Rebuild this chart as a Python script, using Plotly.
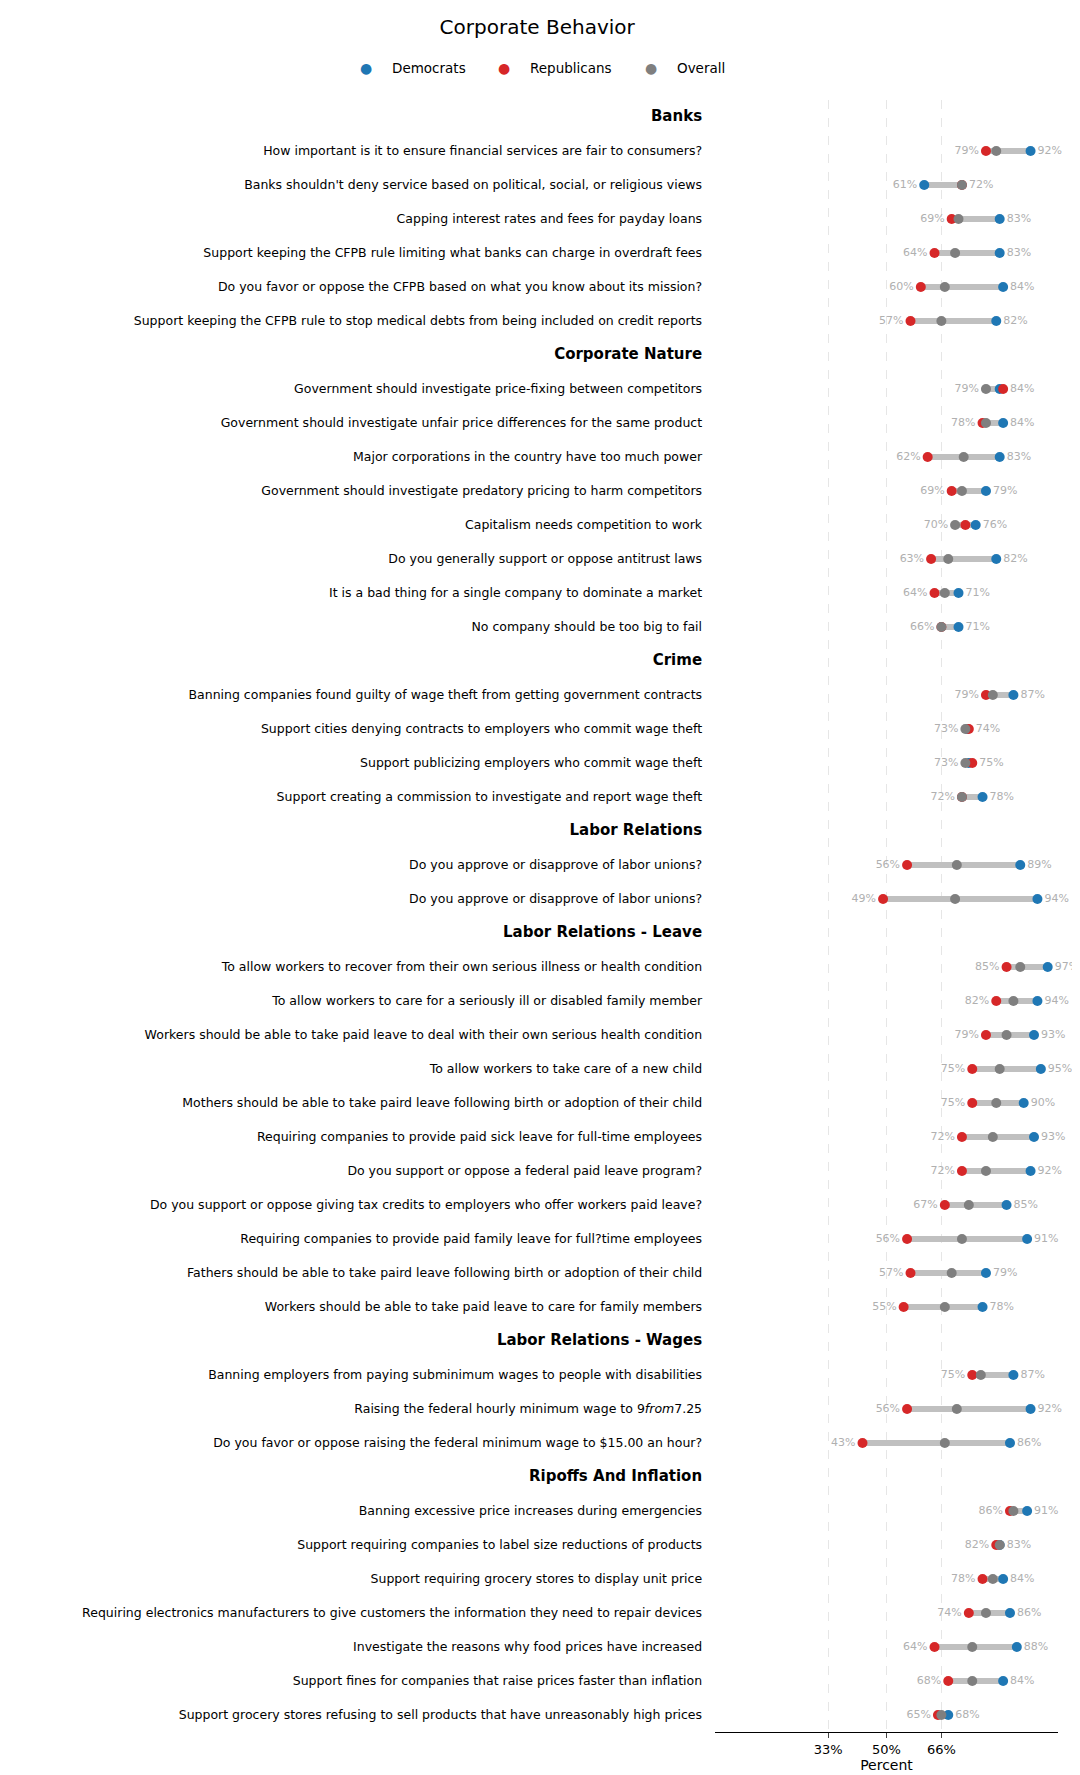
import plotly.graph_objects as go

sections = ["Banks", "Corporate Nature", "Crime", "Labor Relations", "Labor Relations - Leave",
            "Labor Relations - Wages", "Ripoffs And Inflation"]
questions = [
    ["How important is it to ensure financial services are fair to consumers?",
     "Banks shouldn't deny service based on political, social, or religious views",
     "Capping interest rates and fees for payday loans",
     "Support keeping the CFPB rule limiting what banks can charge in overdraft fees",
     "Do you favor or oppose the CFPB based on what you know about its mission?",
     "Support keeping the CFPB rule to stop medical debts from being included on credit reports"],
    ["Government should investigate price-fixing between competitors",
     "Government should investigate unfair price differences for the same product",
     "Major corporations in the country have too much power",
     "Government should investigate predatory pricing to harm competitors",
     "Capitalism needs competition to work",
     "Do you generally support or oppose antitrust laws",
     "It is a bad thing for a single company to dominate a market",
     "No company should be too big to fail"],
    ["Banning companies found guilty of wage theft from getting government contracts",
     "Support cities denying contracts to employers who commit wage theft",
     "Support publicizing employers who commit wage theft",
     "Support creating a commission to investigate and report wage theft"],
    ["Do you approve or disapprove of labor unions?",
     "Do you approve or disapprove of labor unions?"],
    ["To allow workers to recover from their own serious illness or health condition",
     "To allow workers to care for a seriously ill or disabled family member",
     "Workers should be able to take paid leave to deal with their own serious health condition",
     "To allow workers to take care of a new child",
     "Mothers should be able to take paird leave following birth or adoption of their child",
     "Requiring companies to provide paid sick leave for full-time employees",
     "Do you support or oppose a federal paid leave program?",
     "Do you support or oppose giving tax credits to employers who offer workers paid leave?",
     "Requiring companies to provide paid family leave for full?time employees",
     "Fathers should be able to take paird leave following birth or adoption of their child",
     "Workers should be able to take paid leave to care for family members"],
    ["Banning employers from paying subminimum wages to people with disabilities",
     "Raising the federal hourly minimum wage to 9<i>from</i>7.25",
     "Do you favor or oppose raising the federal minimum wage to $15.00 an hour?"],
    ["Banning excessive price increases during emergencies",
     "Support requiring companies to label size reductions of products",
     "Support requiring grocery stores to display unit price",
     "Requiring electronics manufacturers to give customers the information they need to repair devices",
     "Investigate the reasons why food prices have increased",
     "Support fines for companies that raise prices faster than inflation",
     "Support grocery stores refusing to sell products that have unreasonably high prices"],
]
dem = [[92, 61, 83, 83, 84, 82],
       [83, 84, 83, 79, 76, 82, 71, 71],
       [87, 73.5, 74, 78],
       [89, 94],
       [97, 94, 93, 95, 90, 93, 92, 85, 91, 79, 78],
       [87, 92, 86],
       [91, 83, 84, 86, 88, 84, 68]]
rep = [[79, 72, 69, 64, 60, 57],
       [84, 78, 62, 69, 73, 63, 64, 66],
       [79, 74, 75, 72],
       [56, 49],
       [85, 82, 79, 75, 75, 72, 72, 67, 56, 57, 55],
       [75, 56, 43],
       [86, 82, 78, 74, 64, 68, 65]]
ovr = [[82, 72, 71, 70, 67, 66],
       [79, 79, 72.5, 72, 70, 68, 67, 66],
       [81, 73, 73, 72],
       [70.5, 70],
       [89, 87, 85, 83, 82, 81, 79, 74, 72, 69, 67],
       [77.5, 70.5, 67],
       [87, 83, 81, 79, 75, 75, 66]]
x_ticks = [33, 50, 66]
series_names = ["Democrats", "Republicans", "Overall"]
series_colors = ["#1f77b4", "#d62728", "#7f7f7f"]

ticktext, rows = [], []
for s, qs, d, r, o in zip(sections, questions, dem, rep, ovr):
    ticktext.append(f"<span style='font-size:15px'><b>{s}</b></span>   ")
    rows.append(None)
    for q, dv, rv, ov in zip(qs, d, r, o):
        ticktext.append(q + "   ")
        rows.append((dv, rv, ov))
ys = list(range(len(ticktext)))

fig = go.Figure()
lx, ly = [], []
lo_x, lo_y, lo_t, hi_x, hi_y, hi_t = [], [], [], [], [], []
pts = [([], []), ([], []), ([], [])]
for y, row in zip(ys, rows):
    if row is None:
        continue
    mn, mx = min(row), max(row)
    lx += [mn, mx, None]; ly += [y, y, None]
    lo_x.append(mn); lo_y.append(y); lo_t.append(f"{round(mn)}%  ")
    hi_x.append(mx); hi_y.append(y); hi_t.append(f"  {round(mx)}%")
    for k in range(3):
        pts[k][0].append(row[k]); pts[k][1].append(y)

fig.add_trace(go.Scatter(x=lx, y=ly, mode="lines", line=dict(color="#c0c0c0", width=6),
                         showlegend=False, hoverinfo="skip"))
for k in range(3):
    fig.add_trace(go.Scatter(x=pts[k][0], y=pts[k][1], mode="markers", name=series_names[k],
                             marker=dict(color=series_colors[k], size=10), showlegend=False))
fig.add_trace(go.Scatter(x=lo_x, y=lo_y, mode="text", text=lo_t, textposition="middle left",
                         cliponaxis=False,
                         textfont=dict(color="#b0b0b0", size=11), showlegend=False, hoverinfo="skip"))
fig.add_trace(go.Scatter(x=hi_x, y=hi_y, mode="text", text=hi_t, textposition="middle right",
                         cliponaxis=False,
                         textfont=dict(color="#b0b0b0", size=11), showlegend=False, hoverinfo="skip"))

# manual horizontal legend above the chart (paper coords relative to plot area)
W_PLOT, L = 343, 707
leg_px = [358, 496, 643]
for name, col, px in zip(series_names, series_colors, leg_px):
    fig.add_annotation(x=(px - L) / W_PLOT, y=1.0196, xref="paper", yref="paper",
                       text="●", showarrow=False, font=dict(color=col, size=14),
                       xanchor="center", yanchor="middle")
    fig.add_annotation(x=(px + 24 - L) / W_PLOT, y=1.0196, xref="paper", yref="paper",
                       text=name, showarrow=False, font=dict(size=13.5),
                       xanchor="left", yanchor="middle")

fig.update_layout(
    width=1080, height=1775, plot_bgcolor="white", paper_bgcolor="white",
    font=dict(family="DejaVu Sans", color="black", size=12.5),
    title=dict(text="Corporate Behavior", x=0.49, xanchor="center", y=0.993, yanchor="top",
               font=dict(size=20)),
    showlegend=False,
    margin=dict(l=L, r=30, t=92, b=51, autoexpand=False),
    xaxis=dict(range=[0, 100], tickvals=x_ticks, ticktext=[f"{v}%" for v in x_ticks],
               showgrid=True, gridcolor="#e6e6e6", griddash="dash", zeroline=False,
               showline=True, linecolor="black", ticks="outside",
               title=dict(text="Percent", font=dict(size=14), standoff=4), tickfont=dict(size=13)),
    yaxis=dict(tickvals=ys, ticktext=ticktext, range=[len(ys) - 0.5, -0.5],
               showgrid=False, zeroline=False, showline=False, ticks=""),
)
fig.write_html("out.html")
